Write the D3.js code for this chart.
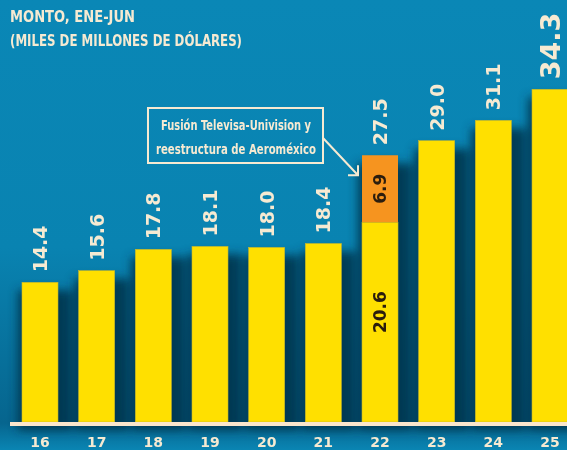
<!DOCTYPE html>
<html>
<head>
<meta charset="utf-8">
<script src="https://cdn.jsdelivr.net/npm/d3@7"></script>
<style>
  html, body { margin: 0; padding: 0; background: #0a85b3; }
  svg { display: block; }
  .title { fill: #f6ead2; font-family: "Liberation Sans Narrow", "DejaVu Sans", sans-serif; font-weight: bold; font-size: 16px; }
  .note { fill: #f6ead2; font-family: "Liberation Sans Narrow", "DejaVu Sans", sans-serif; font-weight: bold; font-size: 14px; }
  .total { fill: #f6ead2; font-family: "DejaVu Sans", sans-serif; font-weight: bold; font-size: 19px; }
  .inner { fill: #2b1d0e; font-family: "DejaVu Sans", sans-serif; font-weight: bold; font-size: 17px; }
  .cat { fill: #f6ead2; font-family: "DejaVu Sans", sans-serif; font-weight: bold; font-size: 14px; }
</style>
</head>
<body>
<div class="container"></div>
<script>
const WIDTH = 567;
const HEIGHT = 450;
const BASE_Y = 422;

var years = ['16', '17', '18', '19', '20', '21', '22', '23', '24', '25'];
var totals = [14.4, 15.6, 17.8, 18.1, 18.0, 18.4, 27.5, 29.0, 31.1, 34.3];
var baseValues = [14.4, 15.6, 17.8, 18.1, 18.0, 18.4, 20.6, 29.0, 31.1, 34.3];
var extraValues = [0, 0, 0, 0, 0, 0, 6.9, 0, 0, 0];
var titleLines = ['MONTO, ENE-JUN', '(MILES DE MILLONES DE DÓLARES)'];
var noteLines = ['Fusión Televisa-Univision y', 'reestructura de Aeroméxico'];
var noteYear = '22';

var translate = function(x, y) {
    return `translate(${x},${y})`;
};

var draw = function() {
    var svg = d3.select('.container').append('svg')
        .attr('width', WIDTH)
        .attr('height', HEIGHT);

    var defs = svg.append('defs');
    defs.append('filter')
        .attr('id', 'blur')
        .attr('x', '-50%').attr('y', '-20%')
        .attr('width', '200%').attr('height', '140%')
        .append('feGaussianBlur')
        .attr('stdDeviation', 5);

    var bg = defs.append('linearGradient')
        .attr('id', 'bg')
        .attr('x1', 0).attr('y1', 0).attr('x2', 0).attr('y2', 1);
    bg.append('stop').attr('offset', '0%').attr('stop-color', '#0a87b6');
    bg.append('stop').attr('offset', '55%').attr('stop-color', '#0983b1');
    bg.append('stop').attr('offset', '94%').attr('stop-color', '#06658e');
    bg.append('stop').attr('offset', '100%').attr('stop-color', '#0a85b3');

    svg.append('rect')
        .attr('width', WIDTH)
        .attr('height', HEIGHT)
        .attr('fill', 'url(#bg)');

    let xScale = d3.scaleBand()
        .domain(years)
        .range([22, 568])
        .paddingInner(0.365)
        .paddingOuter(0);

    let yScale = d3.scaleLinear()
        .domain([0, 35])
        .range([BASE_Y, BASE_Y - 9.7 * 35]);

    var bw = xScale.bandwidth();
    var rows = years.map((y, i) => ({year: y, total: totals[i], base: baseValues[i], extra: extraValues[i]}));

    // shadows around the bars, heavier on the right
    svg.append('g')
        .attr('filter', 'url(#blur)')
        .selectAll('rect').data(rows).enter()
        .append('rect')
        .attr('x', (d) => xScale(d.year) - 4)
        .attr('y', (d) => yScale(d.total) + 8)
        .attr('width', bw + 18)
        .attr('height', (d) => BASE_Y - yScale(d.total))
        .attr('fill', '#02334c')
        .attr('opacity', 0.9);

    var bars = svg.append('g');
    bars.selectAll('rect.base').data(rows).enter()
        .append('rect')
        .classed('base', true)
        .attr('x', (d) => xScale(d.year))
        .attr('y', (d) => yScale(d.base))
        .attr('width', bw)
        .attr('height', (d) => yScale(0) - yScale(d.base))
        .attr('fill', '#ffe000')
        .attr('stroke', '#c9b82a')
        .attr('stroke-width', 0.6);

    bars.selectAll('rect.extra').data(rows.filter((d) => d.extra > 0)).enter()
        .append('rect')
        .classed('extra', true)
        .attr('x', (d) => xScale(d.year))
        .attr('y', (d) => yScale(d.base + d.extra))
        .attr('width', bw)
        .attr('height', (d) => yScale(d.base) - yScale(d.base + d.extra))
        .attr('fill', '#f6941f');

    // baseline
    svg.append('rect')
        .attr('x', 10)
        .attr('y', BASE_Y)
        .attr('width', WIDTH - 10)
        .attr('height', 4)
        .attr('fill', '#fbe6cc');

    // totals above bars
    svg.append('g').selectAll('text').data(rows).enter()
        .append('text')
        .classed('total', true)
        .attr('transform', (d) => translate(xScale(d.year) + bw / 2, yScale(d.total) - 10) + ' rotate(-90)')
        .attr('dominant-baseline', 'central')
        .style('font-size', (d, i) => i === rows.length - 1 ? '27px' : null)
        .text((d) => d3.format('.1f')(d.total));

    // values inside the split bar
    var split = rows.filter((d) => d.extra > 0);
    var inner = svg.append('g');
    inner.selectAll('text.b').data(split).enter()
        .append('text')
        .classed('inner', true)
        .attr('transform', (d) => translate(xScale(d.year) + bw / 2, (yScale(0) + yScale(d.base)) / 2 - 10) + ' rotate(-90)')
        .attr('text-anchor', 'middle')
        .attr('dominant-baseline', 'central')
        .text((d) => d3.format('.1f')(d.base));
    inner.selectAll('text.e').data(split).enter()
        .append('text')
        .classed('inner', true)
        .attr('transform', (d) => translate(xScale(d.year) + bw / 2, (yScale(d.base) + yScale(d.base + d.extra)) / 2) + ' rotate(-90)')
        .attr('text-anchor', 'middle')
        .attr('dominant-baseline', 'central')
        .text((d) => d3.format('.1f')(d.extra));

    // category labels
    svg.append('g').selectAll('text').data(years).enter()
        .append('text')
        .classed('cat', true)
        .attr('x', (d) => xScale(d) + bw / 2)
        .attr('y', 447)
        .attr('text-anchor', 'middle')
        .text((d) => d);

    // title
    var titleWidths = [125, 232];
    svg.append('g').selectAll('text').data(titleLines).enter()
        .append('text')
        .classed('title', true)
        .attr('x', 10)
        .attr('y', (d, i) => 22 + i * 24)
        .attr('textLength', (d, i) => titleWidths[i])
        .attr('lengthAdjust', 'spacingAndGlyphs')
        .text((d) => d);

    // annotation box and arrow
    var note = svg.append('g');
    note.append('rect')
        .attr('x', 148)
        .attr('y', 108)
        .attr('width', 175)
        .attr('height', 55)
        .attr('fill', 'none')
        .attr('stroke', '#f6ead2')
        .attr('stroke-width', 2);
    var noteWidths = [150, 160];
    note.selectAll('text').data(noteLines).enter()
        .append('text')
        .classed('note', true)
        .attr('x', 236)
        .attr('y', (d, i) => 130 + i * 24)
        .attr('text-anchor', 'middle')
        .attr('textLength', (d, i) => noteWidths[i])
        .attr('lengthAdjust', 'spacingAndGlyphs')
        .text((d) => d);

    var ax = xScale(noteYear) - 4;
    var ay = yScale(totals[years.indexOf(noteYear)]) + 20;
    note.append('path')
        .attr('d', `M323,138 L${ax},${ay} M${ax - 10},${ay} L${ax},${ay} L${ax},${ay - 10}`)
        .attr('fill', 'none')
        .attr('stroke', '#f6ead2')
        .attr('stroke-width', 2);
};

window.onload = function() {
    draw();
};
</script>
</body>
</html>
